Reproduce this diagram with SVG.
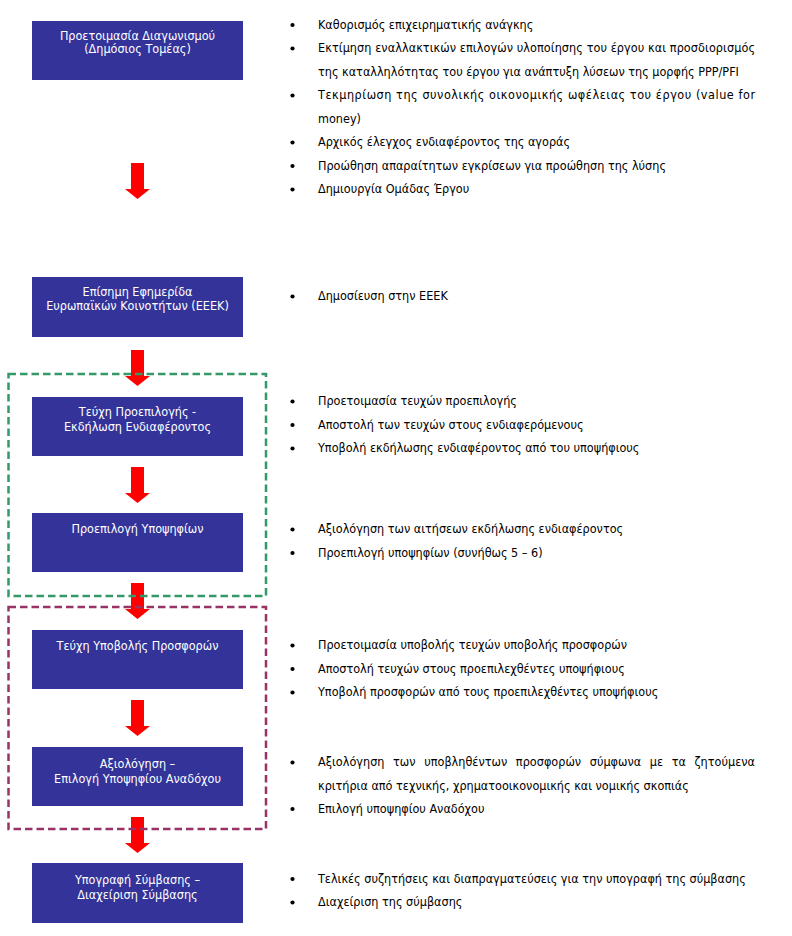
<svg xmlns="http://www.w3.org/2000/svg" width="792" height="936" viewBox="0 0 792 936">
<style>
  .box { fill: #333399; }
  .lbl { fill: #ffffff; font-family: "DejaVu Sans Condensed", "DejaVu Sans", sans-serif; font-size: 12.5px; text-anchor: middle; }
  .txt { fill: #000000; font-family: "DejaVu Sans Condensed", "DejaVu Sans", sans-serif; font-size: 12.5px; }
  .dot { fill: #000000; }
  .arrow { fill: #ff0000; }
  .frame { fill: none; stroke-width: 2.5; stroke-dasharray: 7.5 4; }
  .green { stroke: #339966; }
  .plum { stroke: #993366; }
</style>
<rect width="792" height="936" fill="#ffffff"/>

<g id="connectors">
  <path class="arrow" d="M131,163 H144 V189 H150 L137.5,199 L125,189 H131 Z"/>
  <path class="arrow" d="M131,350 H144 V376 H150 L137.5,386 L125,376 H131 Z"/>
  <path class="arrow" d="M131,467 H144 V493 H150 L137.5,503 L125,493 H131 Z"/>
  <path class="arrow" d="M131,583 H144 V609 H150 L137.5,619 L125,609 H131 Z"/>
  <path class="arrow" d="M131,700 H144 V726 H150 L137.5,736 L125,726 H131 Z"/>
  <path class="arrow" d="M131,817 H144 V843 H150 L137.5,853 L125,843 H131 Z"/>
</g>

<g id="frames">
  <rect class="frame green" x="8.5" y="374" width="257.5" height="222"/>
  <rect class="frame plum" x="8.5" y="607" width="257.5" height="222"/>
</g>

<g id="step1">
  <rect class="box" x="32" y="21" width="211" height="59"/>
  <text class="lbl" x="137.5" y="39.5">Προετοιμασία Διαγωνισμού</text>
  <text class="lbl" x="137.5" y="53">(Δημόσιος Τομέας)</text>
  <circle class="dot" cx="292.5" cy="25" r="2.1"/>
  <text class="txt" x="318" y="28.5">Καθορισμός επιχειρηματικής ανάγκης</text>
  <circle class="dot" cx="292.5" cy="48.5" r="2.1"/>
  <text class="txt" x="318" y="52" textLength="437" lengthAdjust="spacing">Εκτίμηση εναλλακτικών επιλογών υλοποίησης του έργου και προσδιορισμός</text>
  <text class="txt" x="318" y="75.5">της καταλληλότητας του έργου για ανάπτυξη λύσεων της μορφής PPP/PFI</text>
  <circle class="dot" cx="292.5" cy="95.5" r="2.1"/>
  <text class="txt" x="318" y="99" textLength="437" lengthAdjust="spacing">Τεκμηρίωση της συνολικής οικονομικής ωφέλειας του έργου (value for</text>
  <text class="txt" x="318" y="122.5">money)</text>
  <circle class="dot" cx="292.5" cy="142.5" r="2.1"/>
  <text class="txt" x="318" y="146">Αρχικός έλεγχος ενδιαφέροντος της αγοράς</text>
  <circle class="dot" cx="292.5" cy="166" r="2.1"/>
  <text class="txt" x="318" y="169.5">Προώθηση απαραίτητων εγκρίσεων για προώθηση της λύσης</text>
  <circle class="dot" cx="292.5" cy="189.5" r="2.1"/>
  <text class="txt" x="318" y="193">Δημιουργία Ομάδας Έργου</text>
</g>

<g id="step2">
  <rect class="box" x="32" y="277" width="211" height="60"/>
  <text class="lbl" x="137.5" y="296">Επίσημη Εφημερίδα</text>
  <text class="lbl" x="137.5" y="309.5">Ευρωπαϊκών Κοινοτήτων (ΕΕΕΚ)</text>
  <circle class="dot" cx="292.5" cy="296.5" r="2.1"/>
  <text class="txt" x="318" y="300">Δημοσίευση στην ΕΕΕΚ</text>
</g>

<g id="step3">
  <rect class="box" x="32" y="397" width="211" height="59"/>
  <text class="lbl" x="137.5" y="415.5">Τεύχη Προεπιλογής -</text>
  <text class="lbl" x="137.5" y="431">Εκδήλωση Ενδιαφέροντος</text>
  <circle class="dot" cx="292.5" cy="401.5" r="2.1"/>
  <text class="txt" x="318" y="405">Προετοιμασία τευχών προεπιλογής</text>
  <circle class="dot" cx="292.5" cy="425" r="2.1"/>
  <text class="txt" x="318" y="428.5">Αποστολή των τευχών στους ενδιαφερόμενους</text>
  <circle class="dot" cx="292.5" cy="448.5" r="2.1"/>
  <text class="txt" x="318" y="452">Υποβολή εκδήλωσης ενδιαφέροντος από του υποψήφιους</text>
</g>

<g id="step4">
  <rect class="box" x="32" y="513" width="211" height="59"/>
  <text class="lbl" x="137.5" y="533">Προεπιλογή Υποψηφίων</text>
  <circle class="dot" cx="292.5" cy="529.5" r="2.1"/>
  <text class="txt" x="318" y="533">Αξιολόγηση των αιτήσεων εκδήλωσης ενδιαφέροντος</text>
  <circle class="dot" cx="292.5" cy="553" r="2.1"/>
  <text class="txt" x="318" y="556.5">Προεπιλογή υποψηφίων (συνήθως 5 – 6)</text>
</g>

<g id="step5">
  <rect class="box" x="32" y="630" width="211" height="59"/>
  <text class="lbl" x="137.5" y="649.5">Τεύχη Υποβολής Προσφορών</text>
  <circle class="dot" cx="292.5" cy="645.5" r="2.1"/>
  <text class="txt" x="318" y="649">Προετοιμασία υποβολής τευχών υποβολής προσφορών</text>
  <circle class="dot" cx="292.5" cy="669" r="2.1"/>
  <text class="txt" x="318" y="672.5">Αποστολή τευχών στους προεπιλεχθέντες υποψήφιους</text>
  <circle class="dot" cx="292.5" cy="692.5" r="2.1"/>
  <text class="txt" x="318" y="696">Υποβολή προσφορών από τους προεπιλεχθέντες υποψήφιους</text>
</g>

<g id="step6">
  <rect class="box" x="32" y="747" width="211" height="59"/>
  <text class="lbl" x="137.5" y="767.5">Αξιολόγηση –</text>
  <text class="lbl" x="137.5" y="782.5">Επιλογή Υποψηφίου Αναδόχου</text>
  <circle class="dot" cx="292.5" cy="762.5" r="2.1"/>
  <text class="txt" x="318" y="766" textLength="437" lengthAdjust="spacing" style="word-spacing:5px">Αξιολόγηση των υποβληθέντων προσφορών σύμφωνα με τα ζητούμενα</text>
  <text class="txt" x="318" y="789.5">κριτήρια από τεχνικής, χρηματοοικονομικής και νομικής σκοπιάς</text>
  <circle class="dot" cx="292.5" cy="809" r="2.1"/>
  <text class="txt" x="318" y="812.5">Επιλογή υποψηφίου Αναδόχου</text>
</g>

<g id="step7">
  <rect class="box" x="32" y="863" width="211" height="60"/>
  <text class="lbl" x="137.5" y="883.5">Υπογραφή Σύμβασης –</text>
  <text class="lbl" x="137.5" y="898.5">Διαχείριση Σύμβασης</text>
  <circle class="dot" cx="292.5" cy="879" r="2.1"/>
  <text class="txt" x="318" y="882.5">Τελικές συζητήσεις και διαπραγματεύσεις για την υπογραφή της σύμβασης</text>
  <circle class="dot" cx="292.5" cy="902.5" r="2.1"/>
  <text class="txt" x="318" y="906">Διαχείριση της σύμβασης</text>
</g>
</svg>
